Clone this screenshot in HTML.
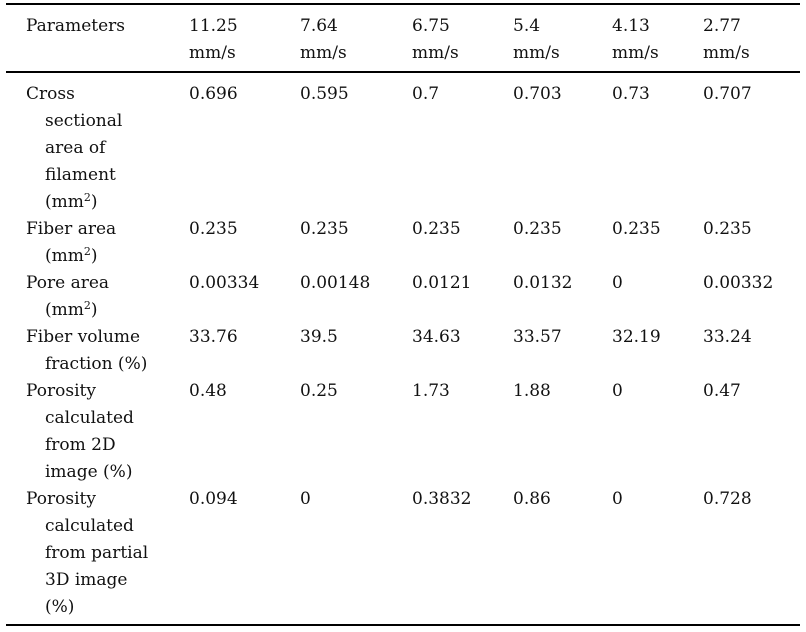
<!DOCTYPE html>
<html><head><meta charset="utf-8"><style>
body{margin:0;width:806px;height:632px;background:#fff;position:relative;font-family:"DejaVu Serif",serif;font-size:17px;color:#111;overflow:hidden}
.r{position:absolute;left:6px;width:794px;background:#000}
.t{position:absolute;line-height:27px;white-space:nowrap}
.i{padding-left:19px}
sup{font-size:11px;line-height:0;vertical-align:6px}
</style></head><body>
<div class="r" style="top:3px;height:2px"></div>
<div class="r" style="top:71px;height:2px"></div>
<div class="r" style="top:624px;height:1.5px"></div>

<div class="t" style="left:26px;top:12.5px">Parameters</div>
<div class="t" style="left:189px;top:12.5px">11.25<br>mm/s</div>
<div class="t" style="left:300px;top:12.5px">7.64<br>mm/s</div>
<div class="t" style="left:412px;top:12.5px">6.75<br>mm/s</div>
<div class="t" style="left:513px;top:12.5px">5.4<br>mm/s</div>
<div class="t" style="left:612px;top:12.5px">4.13<br>mm/s</div>
<div class="t" style="left:703px;top:12.5px">2.77<br>mm/s</div>

<div class="t" style="left:26px;top:80.5px">Cross<br><span class="i">sectional</span><br><span class="i">area of</span><br><span class="i">filament</span><br><span class="i">(mm<sup>2</sup>)</span></div>
<div class="t" style="left:189px;top:80.5px">0.696</div>
<div class="t" style="left:300px;top:80.5px">0.595</div>
<div class="t" style="left:412px;top:80.5px">0.7</div>
<div class="t" style="left:513px;top:80.5px">0.703</div>
<div class="t" style="left:612px;top:80.5px">0.73</div>
<div class="t" style="left:703px;top:80.5px">0.707</div>

<div class="t" style="left:26px;top:215.5px">Fiber area<br><span class="i">(mm<sup>2</sup>)</span></div>
<div class="t" style="left:189px;top:215.5px">0.235</div>
<div class="t" style="left:300px;top:215.5px">0.235</div>
<div class="t" style="left:412px;top:215.5px">0.235</div>
<div class="t" style="left:513px;top:215.5px">0.235</div>
<div class="t" style="left:612px;top:215.5px">0.235</div>
<div class="t" style="left:703px;top:215.5px">0.235</div>

<div class="t" style="left:26px;top:269.5px">Pore area<br><span class="i">(mm<sup>2</sup>)</span></div>
<div class="t" style="left:189px;top:269.5px">0.00334</div>
<div class="t" style="left:300px;top:269.5px">0.00148</div>
<div class="t" style="left:412px;top:269.5px">0.0121</div>
<div class="t" style="left:513px;top:269.5px">0.0132</div>
<div class="t" style="left:612px;top:269.5px">0</div>
<div class="t" style="left:703px;top:269.5px">0.00332</div>

<div class="t" style="left:26px;top:323.5px">Fiber volume<br><span class="i">fraction (%)</span></div>
<div class="t" style="left:189px;top:323.5px">33.76</div>
<div class="t" style="left:300px;top:323.5px">39.5</div>
<div class="t" style="left:412px;top:323.5px">34.63</div>
<div class="t" style="left:513px;top:323.5px">33.57</div>
<div class="t" style="left:612px;top:323.5px">32.19</div>
<div class="t" style="left:703px;top:323.5px">33.24</div>

<div class="t" style="left:26px;top:377.5px">Porosity<br><span class="i">calculated</span><br><span class="i">from 2D</span><br><span class="i">image (%)</span></div>
<div class="t" style="left:189px;top:377.5px">0.48</div>
<div class="t" style="left:300px;top:377.5px">0.25</div>
<div class="t" style="left:412px;top:377.5px">1.73</div>
<div class="t" style="left:513px;top:377.5px">1.88</div>
<div class="t" style="left:612px;top:377.5px">0</div>
<div class="t" style="left:703px;top:377.5px">0.47</div>

<div class="t" style="left:26px;top:485.5px">Porosity<br><span class="i">calculated</span><br><span class="i">from partial</span><br><span class="i">3D image</span><br><span class="i">(%)</span></div>
<div class="t" style="left:189px;top:485.5px">0.094</div>
<div class="t" style="left:300px;top:485.5px">0</div>
<div class="t" style="left:412px;top:485.5px">0.3832</div>
<div class="t" style="left:513px;top:485.5px">0.86</div>
<div class="t" style="left:612px;top:485.5px">0</div>
<div class="t" style="left:703px;top:485.5px">0.728</div>
</body></html>
